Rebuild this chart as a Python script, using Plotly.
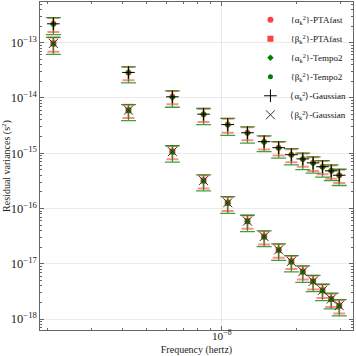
import plotly.graph_objects as go

# frequencies k/T, T ~ 15 yr
freqs = [2.112e-9, 4.224e-9, 6.336e-9, 8.448e-9, 1.056e-8, 1.267e-8, 1.478e-8,
         1.690e-8, 1.901e-8, 2.112e-8, 2.323e-8, 2.534e-8, 2.746e-8, 2.957e-8]

# residual variances (s^2)
alpha_ptafast = [2.2e-13, 2.9e-14, 1.05e-14, 5.1e-15, 3.3e-15, 2.35e-15, 1.62e-15,
                 1.26e-15, 9.4e-16, 7.9e-16, 6.7e-16, 5.7e-16, 4.8e-16, 4.0e-16]
beta_ptafast = [9.7e-14, 6.0e-15, 1.07e-15, 3.2e-16, 1.27e-16, 5.9e-17, 3.1e-17,
                1.78e-17, 1.1e-17, 7.2e-18, 4.8e-18, 3.3e-18, 2.3e-18, 1.74e-18]
alpha_tempo2 = [2.15e-13, 2.85e-14, 1.03e-14, 5.0e-15, 3.25e-15, 2.3e-15, 1.6e-15,
                1.24e-15, 9.3e-16, 7.8e-16, 6.6e-16, 5.6e-16, 4.75e-16, 3.95e-16]
beta_tempo2 = [9.5e-14, 5.9e-15, 1.05e-15, 3.15e-16, 1.25e-16, 5.8e-17, 3.05e-17,
               1.75e-17, 1.08e-17, 7.1e-18, 4.75e-18, 3.25e-18, 2.27e-18, 1.72e-18]
alpha_gauss = [2.2e-13, 2.9e-14, 1.05e-14, 5.1e-15, 3.3e-15, 2.35e-15, 1.62e-15,
               1.26e-15, 9.4e-16, 7.9e-16, 6.7e-16, 5.7e-16, 4.8e-16, 4.0e-16]
beta_gauss = [9.7e-14, 6.0e-15, 1.07e-15, 3.2e-16, 1.27e-16, 5.9e-17, 3.1e-17,
              1.78e-17, 1.1e-17, 7.2e-18, 4.8e-18, 3.3e-18, 2.3e-18, 1.74e-18]

# relative 1-sigma errors (upper / lower)
rel_up_ptafast = [0.28, 0.26, 0.27, 0.25, 0.27, 0.26, 0.25, 0.27, 0.26, 0.25, 0.26, 0.27, 0.25, 0.26]
rel_dn_ptafast = [0.29, 0.28, 0.27, 0.28, 0.29, 0.27, 0.28, 0.28, 0.27, 0.28, 0.29, 0.27, 0.28, 0.28]
rel_up_tempo2 = [0.32, 0.28, 0.30, 0.29, 0.31, 0.30, 0.29, 0.31, 0.30, 0.29, 0.30, 0.31, 0.30, 0.30]
rel_dn_tempo2 = [0.35, 0.34, 0.34, 0.34, 0.35, 0.34, 0.33, 0.34, 0.34, 0.35, 0.34, 0.34, 0.33, 0.34]


def errs(vals, up, dn):
    return dict(type="data", symmetric=False,
                array=[v * u for v, u in zip(vals, up)],
                arrayminus=[v * d for v, d in zip(vals, dn)])


red_err = dict(color="rgba(255,0,0,0.45)", thickness=2, width=6)
green_err = dict(color="rgba(0,128,0,0.75)", thickness=1.3, width=7.5)

fig = go.Figure()

fig.add_trace(go.Scatter(
    x=freqs, y=alpha_ptafast, mode="markers", name="{α<sub>k</sub><sup>2</sup>}-PTAfast",
    marker=dict(symbol="circle", size=6, color="rgba(255,0,0,0.75)"),
    error_y={**errs(alpha_ptafast, rel_up_ptafast, rel_dn_ptafast), **red_err}))
fig.add_trace(go.Scatter(
    x=freqs, y=beta_ptafast, mode="markers", name="{β<sub>k</sub><sup>2</sup>}-PTAfast",
    marker=dict(symbol="square", size=6, color="rgba(255,0,0,0.75)"),
    error_y={**errs(beta_ptafast, rel_up_ptafast, rel_dn_ptafast), **red_err}))
fig.add_trace(go.Scatter(
    x=freqs, y=alpha_tempo2, mode="markers", name="{α<sub>k</sub><sup>2</sup>}-Tempo2",
    marker=dict(symbol="diamond", size=5, color="green"),
    error_y={**errs(alpha_tempo2, rel_up_tempo2, rel_dn_tempo2), **green_err}))
fig.add_trace(go.Scatter(
    x=freqs, y=beta_tempo2, mode="markers", name="{β<sub>k</sub><sup>2</sup>}-Tempo2",
    marker=dict(symbol="circle", size=5, color="green"),
    error_y={**errs(beta_tempo2, rel_up_tempo2, rel_dn_tempo2), **green_err}))
fig.add_trace(go.Scatter(
    x=freqs, y=alpha_gauss, mode="markers", name="⟨α<sub>k</sub><sup>2</sup>⟩-Gaussian",
    marker=dict(symbol="cross-thin", size=9, line=dict(width=1, color="black"))))
fig.add_trace(go.Scatter(
    x=freqs, y=beta_gauss, mode="markers", name="⟨β<sub>k</sub><sup>2</sup>⟩-Gaussian",
    marker=dict(symbol="x-thin", size=9, line=dict(width=1, color="#333333"))))

axis_common = dict(
    type="log", showline=True, linecolor="#666666", linewidth=1.2, mirror="ticks",
    ticks="inside", ticklen=4, tickcolor="#666666", dtick=1,
    exponentformat="power", showgrid=True, gridcolor="rgba(0,0,0,0.08)", gridwidth=1,
    zeroline=False, automargin=False,
    minor=dict(ticks="inside", ticklen=2, tickcolor="#666666", showgrid=False),
    tickfont=dict(size=10, color="#222222"),
)

fig.update_layout(
    width=356, height=356,
    margin=dict(l=40, r=3, t=2, b=26),
    paper_bgcolor="white", plot_bgcolor="white",
    font=dict(family="Liberation Serif", size=10, color="#222222"),
    showlegend=True,
    legend=dict(x=0.995, y=0.99, xanchor="right", yanchor="top",
                bgcolor="rgba(0,0,0,0)", font=dict(size=9, color="#111111"), tracegroupgap=0),
    xaxis=dict(axis_common, range=[-8.729, -7.474], ticklabelstandoff=-4,
               tickfont=dict(size=9, color="#222222"),
               title=dict(text="Frequency (hertz)", standoff=6, font=dict(size=10))),
    yaxis=dict(axis_common, range=[-18.199, -12.263],
               title=dict(text="Residual variances (s<sup>2</sup>)", standoff=4, font=dict(size=10))),
)

fig.write_html("out.html", config={"displayModeBar": False},
               post_script="document.body.style.margin='0';")
